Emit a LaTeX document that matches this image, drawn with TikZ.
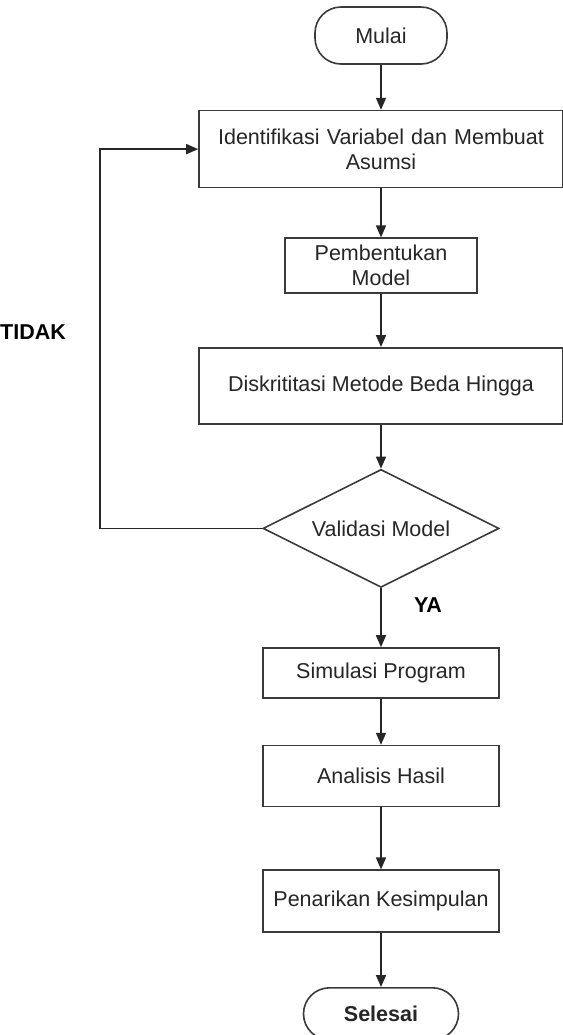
\documentclass[tikz,border=0pt]{standalone}
\usepackage{fontspec}
\setmainfont{Liberation Sans}
\usetikzlibrary{arrows.meta,positioning,shapes.geometric}
\definecolor{edge}{HTML}{3A3A3A}
\definecolor{ink}{HTML}{262626}

\begin{document}
\begin{tikzpicture}[font=\fontsize{10.75pt}{12.4pt}\selectfont,text=ink,
      >={Triangle[width=5pt,length=6pt]},
      blk/.style={draw=edge,line width=0.8pt,fill=white,align=center,inner sep=1pt,minimum width=118pt},
      term/.style={draw=edge,line width=0.8pt,rounded corners=13pt,align=center,inner sep=1pt},
      dec/.style={draw=edge,line width=0.8pt,diamond,aspect=2,inner sep=0pt,minimum width=118pt,minimum height=59pt},
      link/.style={->,draw=black!85,line width=0.8pt},
      lbl/.style={font=\fontsize{10.75pt}{12.4pt}\selectfont\bfseries,text=black}]
    \useasboundingbox (0,0) rectangle (281.5pt,-517.5pt);
    \node[term,minimum width=66pt,minimum height=28.5pt] (mulai) at (190.5pt,-17.75pt) {Mulai};
    \node[blk,below=22.5pt of mulai,minimum width=182pt,minimum height=38.5pt,text width=176pt] (idv) {Identifikasi Variabel dan Membuat\\Asumsi};
    \node[blk,below=24.5pt of idv,minimum width=96pt,minimum height=27.5pt] (pb) {Pembentukan\\Model};
    \node[blk,below=26.5pt of pb,minimum width=182pt,minimum height=38pt] (dmb) {Diskrititasi Metode Beda Hingga};
    \node[dec,below=22pt of dmb] (val) {Validasi Model};
    \node[blk,below=29.5pt of val,minimum height=25pt] (sim) {Simulasi Program};
    \node[blk,below=23pt of sim,minimum height=30.5pt] (ana) {Analisis Hasil};
    \node[blk,below=31pt of ana,minimum height=31pt] (pk) {Penarikan Kesimpulan};
    \node[term,below=27pt of pk,minimum width=77.5pt,minimum height=26pt,font=\fontsize{10.75pt}{12.4pt}\selectfont\bfseries] (sel) {Selesai};
    \node[lbl,anchor=east] (tidak) at (36.5pt,-166pt) {TIDAK};
    \node[lbl] (ya) at (214pt,-302.5pt) {YA};
    \draw[link](mulai)--(idv);\draw[link](idv)--(pb);\draw[link](pb)--(dmb);\draw[link](dmb)--(val);
    \draw[link](val)--(sim);\draw[link](sim)--(ana);\draw[link](ana)--(pk);\draw[link](pk)--(sel);
    \draw[link](val.west)--++(-81pt,0)|-(idv.west);
  \end{tikzpicture}
\end{document}
